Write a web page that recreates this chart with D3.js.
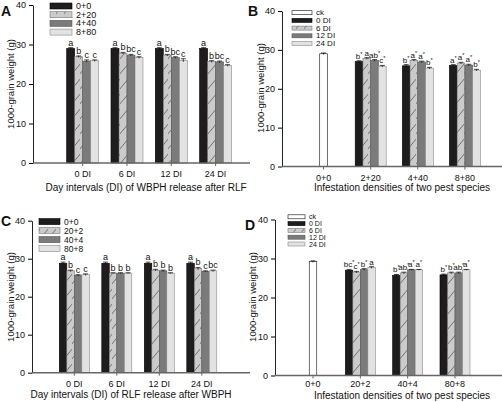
<!DOCTYPE html>
<html><head><meta charset="utf-8">
<script src="https://cdn.jsdelivr.net/npm/d3@7"></script>
<style>body{margin:0;background:#fff}svg{display:block}text{font-family:"Liberation Sans",Arial,sans-serif;fill:#111}</style>
</head><body><svg id="c" width="502" height="402"></svg>
<script>
// ---------- data ----------
const groupsA = ["0 DI", "6 DI", "12 DI", "24 DI"];
const seriesA = ["0+0", "2+20", "4+40", "8+80"];
const valuesA = [[29.0, 26.9, 25.8, 25.9], [29.0, 27.8, 27.3, 26.7], [29.0, 27.3, 26.7, 26.0], [29.0, 25.7, 25.6, 24.7]];
const errorsA = [[0.2, 0.2, 0.3, 0.2], [0.2, 0.2, 0.2, 0.2], [0.2, 0.2, 0.2, 0.4], [0.2, 0.2, 0.2, 0.2]];
const lettersA = [["a", "b", "c", "c"], ["a", "b", "bc", "c"], ["a", "b", "bc", "c"], ["a", "b", "bc", "c"]];

const groupsB = ["0+0", "2+20", "4+40", "8+80"];
const seriesB = ["ck", "0 DI", "6 DI", "12 DI", "24 DI"];
const ckB = 29.0, ckErrB = 0.2;
const valuesB = [[27.0, 27.8, 27.3, 25.8], [25.9, 27.3, 26.9, 25.3], [26.0, 26.6, 26.1, 24.8]];
const errorsB = [[0.2, 0.2, 0.2, 0.2], [0.3, 0.2, 0.2, 0.2], [0.2, 0.2, 0.2, 0.2]];
const lettersB = [["b*", "a", "ab*", "c*"], ["b*", "a*", "a*", "b*"], ["a*", "a*", "a*", "b*"]];

const groupsC = ["0 DI", "6 DI", "12 DI", "24 DI"];
const seriesC = ["0+0", "20+2", "40+4", "80+8"];
const valuesC = [[28.8, 26.8, 25.6, 25.8], [28.8, 26.2, 26.2, 26.2], [28.8, 27.0, 26.8, 26.2], [28.8, 27.4, 26.7, 26.8]];
const errorsC = [[0.3, 0.2, 0.2, 0.2], [0.3, 0.1, 0.1, 0.1], [0.3, 0.2, 0.2, 0.1], [0.3, 0.3, 0.1, 0.2]];
const lettersC = [["a", "b", "c", "c"], ["a", "b", "b", "b"], ["a", "b", "b", "b"], ["a", "b", "c", "bc"]];

const groupsD = ["0+0", "20+2", "40+4", "80+8"];
const seriesD = ["ck", "0 DI", "6 DI", "12 DI", "24 DI"];
const ckD = 29.2, ckErrD = 0.2;
const valuesD = [[27.0, 26.5, 27.2, 27.7], [25.7, 26.3, 27.1, 27.1], [25.8, 26.3, 26.3, 27.1]];
const errorsD = [[0.2, 0.2, 0.2, 0.2], [0.2, 0.2, 0.1, 0.1], [0.2, 0.2, 0.2, 0.1]];
const lettersD = [["bc*", "c*", "b*", "a"], ["b*", "ab*", "a*", "a*"], ["b*", "b*", "ab*", "a*"]];

const yTicks = [0, 10, 20, 30, 40];

// ---------- styles ----------
const svg = d3.select("#c");
const defs = svg.append("defs");
const pat = defs.append("pattern").attr("id", "hatch").attr("patternUnits", "userSpaceOnUse").attr("width", 8).attr("height", 15);
pat.append("rect").attr("width", 8).attr("height", 15).attr("fill", "#cbcbcb");
pat.append("path").attr("d", "M-1,15 L9,3").attr("stroke", "#4a4a4a").attr("stroke-width", 0.7);

const STY = {
  ck: {fill: "#ffffff", stroke: "#111"},
  black: {fill: "#1e1c1d", stroke: "#000"},
  hatch: {fill: "url(#hatch)", stroke: "#777"},
  dark: {fill: "#7b7b7b", stroke: "#555"},
  light: {fill: "#e2e2e2", stroke: "#8a8a8a"}
};
const styleFour = ["black", "hatch", "dark", "light"];

function letterText(sel, s, fs) {
  const base = s.replace("*", "");
  sel.append("tspan").text(base);
  if (s.includes("*")) sel.append("tspan").attr("font-size", fs * 0.7).attr("dy", -3).text("*");
}

function panel(p) {
  const g = svg.append("g");
  const y = d3.scaleLinear().domain([0, 40]).range([p.y0, p.y40]);
  const x = d3.scaleBand().domain(p.groups).range(p.xr).paddingInner(p.pad).paddingOuter(0);
  const xi = d3.scaleBand().domain(p.slots).range([0, x.bandwidth()]);
  const bw = xi.bandwidth();

  const bars = [];
  if (p.ck) bars.push({x: x(p.groups[0]) + x.bandwidth() / 2 - bw / 2, v: p.ck.v, e: p.ck.e, l: null, st: "ck"});
  p.rows.forEach((row, i) => {
    const gr = p.barGroups[i];
    row.forEach((v, j) => bars.push({x: x(gr) + xi(p.slots[j]), v, e: p.errs[i][j], l: p.letters[i][j], st: styleFour[j]}));
  });

  g.selectAll("rect.bar").data(bars).join("rect").attr("class", "bar")
    .attr("x", d => d.x).attr("width", bw)
    .attr("y", d => y(d.v)).attr("height", d => y(0) - y(d.v))
    .attr("fill", d => STY[d.st].fill).attr("stroke", d => STY[d.st].stroke).attr("stroke-width", 0.6);

  const eb = g.selectAll("g.eb").data(bars).join("g").attr("class", "eb");
  eb.append("line").attr("x1", d => d.x + bw / 2).attr("x2", d => d.x + bw / 2)
    .attr("y1", d => y(d.v - d.e)).attr("y2", d => y(d.v + d.e)).attr("stroke", "#000").attr("stroke-width", 0.7);
  eb.append("line").attr("x1", d => d.x + bw / 2 - 2.5).attr("x2", d => d.x + bw / 2 + 2.5)
    .attr("y1", d => y(d.v + d.e)).attr("y2", d => y(d.v + d.e)).attr("stroke", "#000").attr("stroke-width", 0.7);

  g.selectAll("text.lt").data(bars.filter(d => d.l)).join("text").attr("class", "lt")
    .attr("x", d => d.x + bw / 2).attr("y", d => y(d.v + d.e) - 2)
    .attr("text-anchor", "middle").attr("font-size", p.lfs)
    .each(function (d) { letterText(d3.select(this), d.l, p.lfs); });

  const ya = g.append("g").attr("transform", `translate(${p.ax},0)`)
    .call(d3.axisLeft(y).tickValues(yTicks).tickSize(4).tickPadding(3).tickSizeOuter(0));
  ya.selectAll("text").attr("font-size", p.tfs).style("font-family", '"Liberation Sans",Arial,sans-serif');
  ya.select(".domain").attr("stroke", "#222").attr("stroke-width", 1);

  g.append("line").attr("x1", p.ax).attr("x2", p.axEnd).attr("y1", y(0)).attr("y2", y(0))
    .attr("stroke", "#666").attr("stroke-width", 1.6);
  const xa = g.append("g").attr("transform", `translate(0,${y(0)})`)
    .call(d3.axisBottom(x).tickSize(3).tickPadding(p.xpad).tickSizeOuter(0));
  xa.select(".domain").remove();
  xa.selectAll("line").attr("stroke", "#666");
  xa.selectAll("text").attr("font-size", p.tfs).style("font-family", '"Liberation Sans",Arial,sans-serif');

  g.append("text").attr("x", p.titleX).attr("y", p.titleY).attr("text-anchor", "middle")
    .attr("font-size", p.titleFs).text(p.title);
  g.append("text").attr("transform", `translate(${p.ylX},${p.ylY}) rotate(-90)`).attr("text-anchor", "middle")
    .attr("font-size", p.ylFs).text(p.ylabel);
  g.append("text").attr("x", p.pl[0]).attr("y", p.pl[1]).attr("font-size", 14).attr("font-weight", "bold").text(p.letter);

  const lg = g.append("g");
  p.legend.items.forEach((s, i) => {
    const st = p.legend.styles[i];
    const ly = p.legend.y + i * p.legend.dy;
    lg.append("rect").attr("x", p.legend.x).attr("y", ly).attr("width", p.legend.w).attr("height", p.legend.h)
      .attr("fill", STY[st].fill).attr("stroke", STY[st].stroke).attr("stroke-width", 0.6);
    lg.append("text").attr("x", p.legend.x + p.legend.w + 4).attr("y", ly + p.legend.h / 2)
      .attr("dominant-baseline", "central").attr("font-size", p.legend.fs).text(s);
  });
}

panel({
  groups: groupsA, slots: seriesA, barGroups: groupsA, rows: valuesA, errs: errorsA, letters: lettersA,
  ax: 33, axEnd: 250, y0: 163, y40: 5, xr: [66.7, 231.6], pad: 0.278,
  lfs: 9, tfs: 9, xpad: 5,
  title: "Day intervals (DI) of WBPH release after RLF", titleX: 146, titleY: 191, titleFs: 10,
  ylabel: "1000-grain weight (g)", ylX: 14, ylY: 84, ylFs: 9.5, letter: "A", pl: [1, 16],
  legend: {items: seriesA, styles: styleFour, x: 50, y: 3, dy: 8.7, w: 22, h: 6, fs: 9}
});

panel({
  groups: groupsB, slots: seriesB.slice(1), barGroups: groupsB.slice(1), rows: valuesB, errs: errorsB, letters: lettersB,
  ck: {v: ckB, e: ckErrB},
  ax: 282, axEnd: 502, y0: 166.5, y40: 11, xr: [308.1, 480.4], pad: 0.342,
  lfs: 8, tfs: 9, xpad: 5,
  title: "Infestation densities of two pest species", titleX: 402, titleY: 191, titleFs: 10,
  ylabel: "1000-grain weight (g)", ylX: 264, ylY: 88, ylFs: 9.5, letter: "B", pl: [248, 16],
  legend: {items: seriesB, styles: ["ck"].concat(styleFour), x: 292, y: 10.7, dy: 7.7, w: 20, h: 4, fs: 8}
});

panel({
  groups: groupsC, slots: seriesC, barGroups: groupsC, rows: valuesC, errs: errorsC, letters: lettersC,
  ax: 32, axEnd: 250, y0: 372.7, y40: 220.7, xr: [59.3, 216.8], pad: 0.294,
  lfs: 9, tfs: 9, xpad: 5,
  title: "Day intervals (DI) of RLF release after WBPH", titleX: 131, titleY: 398, titleFs: 10,
  ylabel: "1000-grain weight (g)", ylX: 14, ylY: 297, ylFs: 9.5, letter: "C", pl: [1, 226],
  legend: {items: seriesC, styles: styleFour, x: 39, y: 218.6, dy: 9, w: 21, h: 6, fs: 8.5}
});

panel({
  groups: groupsD, slots: seriesD.slice(1), barGroups: groupsD.slice(1), rows: valuesD, errs: errorsD, letters: lettersD,
  ck: {v: ckD, e: ckErrD},
  ax: 275, axEnd: 502, y0: 375.5, y40: 219.5, xr: [298, 470], pad: 0.366,
  lfs: 8, tfs: 9, xpad: 2,
  title: "Infestation densities of two pest species", titleX: 402, titleY: 399, titleFs: 10,
  ylabel: "1000-grain weight (g)", ylX: 256, ylY: 297, ylFs: 9.5, letter: "D", pl: [245, 230],
  legend: {items: seriesD, styles: ["ck"].concat(styleFour), x: 288, y: 214.8, dy: 6.8, w: 17, h: 4, fs: 7}
});
</script></body></html>
